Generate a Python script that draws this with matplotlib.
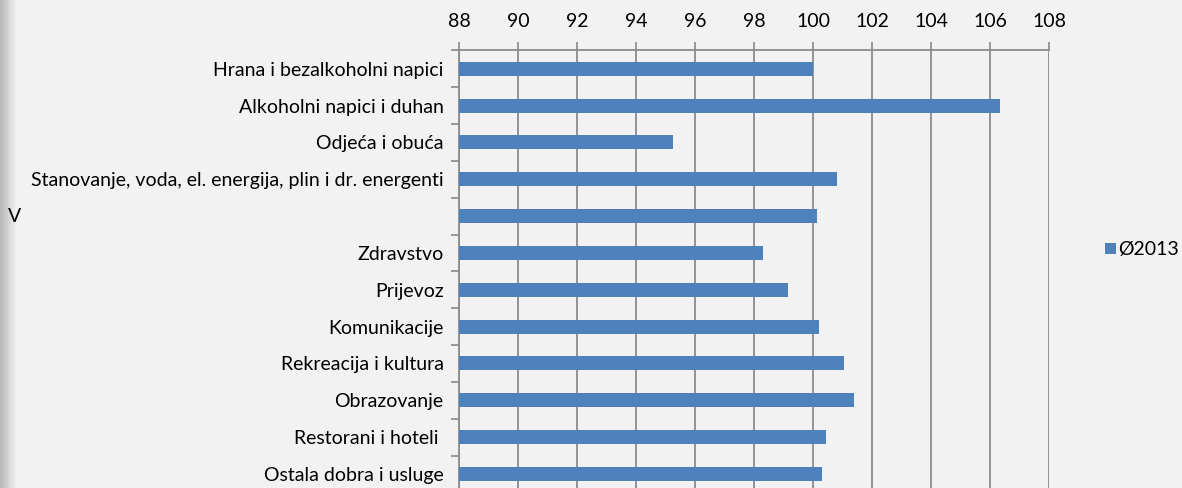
import matplotlib
matplotlib.use("Agg")
import matplotlib.pyplot as plt
import numpy as np

categories = [
    "Hrana i bezalkoholni napici",
    "Alkoholni napici i duhan",
    "Odjeća i obuća",
    "Stanovanje, voda, el. energija, plin i dr. energenti",
    "",
    "Zdravstvo",
    "Prijevoz",
    "Komunikacije",
    "Rekreacija i kultura",
    "Obrazovanje",
    "Restorani i hoteli ",
    "Ostala dobra i usluge",
]
values = [100.0, 106.35, 95.25, 100.8, 100.14, 98.3, 99.15, 100.2, 101.05, 101.4, 100.43, 100.3]
series_name = "Ø2013"
xticks = list(range(88, 109, 2))

plt.rcParams['font.family'] = ['Lato', 'DejaVu Sans']
FS = 14

fig = plt.figure(figsize=(11.82, 4.88), dpi=100)
fig.patch.set_facecolor('#F2F2F2')

# left-edge shadow
shadow = fig.add_axes([0, 0, 0.014, 1])
grad = np.linspace(0.72, 0.95, 50).reshape(1, -1)
shadow.imshow(grad, cmap='gray', vmin=0, vmax=1, aspect='auto', extent=[0, 1, 0, 1])
shadow.axis('off')

ax = fig.add_axes([459/1182, -4.4/488, 590/1182, 442/488])
ax.set_facecolor('#F2F2F2')

y = np.arange(len(categories))
widths = [v - 88 for v in values]
bars = ax.barh(y, widths, left=88, height=0.38, color='#4F81BD', label=series_name, zorder=3)

ax.set_xlim(88, 108)
ax.set_ylim(len(categories) - 0.5, -0.5)
ax.xaxis.tick_top()
ax.set_xticks(xticks)
ax.set_xticklabels([str(t) for t in xticks], fontsize=FS)
ax.tick_params(axis='x', length=6, width=1.2, color='#888888', pad=9)
ax.grid(axis='x', color='#8C8C8C', linewidth=1.3, zorder=1)

ax.set_yticks(y)
ax.set_yticklabels(categories, fontsize=FS)
ax.tick_params(axis='y', length=0, pad=11)
ax.set_yticks(np.arange(len(categories) + 1) - 0.5, minor=True)
ax.tick_params(axis='y', which='minor', length=6, width=1.2, color='#888888')

for s in ['right', 'bottom']:
    ax.spines[s].set_visible(False)
for s in ['left', 'top']:
    ax.spines[s].set_color('#8C8C8C')
    ax.spines[s].set_linewidth(1.3)

fig.text(8/1182, 1 - 217/488, "V", fontsize=FS, ha='left', va='center')

leg = fig.legend(handles=[bars], labels=[series_name], loc='center left',
                 bbox_to_anchor=(1105/1182, 1 - 250/488), frameon=False,
                 borderpad=0, borderaxespad=0,
                 fontsize=FS, handlelength=0.55, handleheight=0.55, handletextpad=0.12)

fig.savefig('out.png', dpi=100, facecolor=fig.get_facecolor())
